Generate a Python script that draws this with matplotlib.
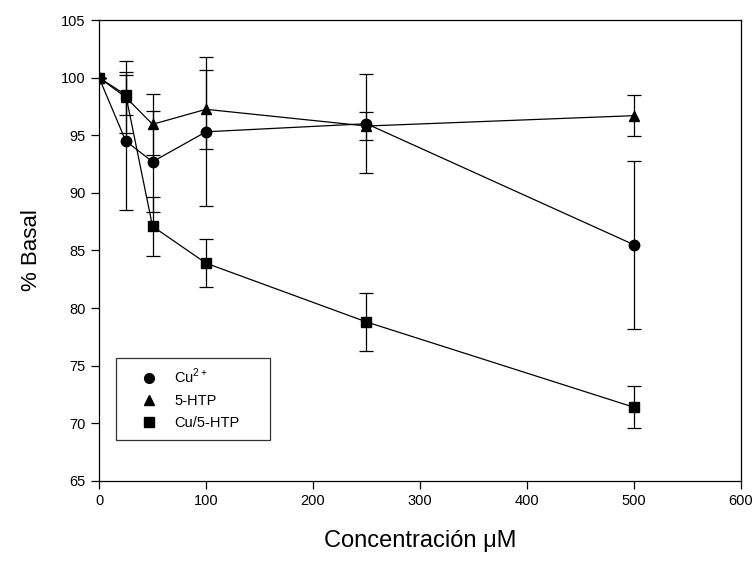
import matplotlib
matplotlib.use("Agg")
import matplotlib.pyplot as plt

plt.rcParams['font.family'] = ['Liberation Sans', 'DejaVu Sans']
plt.rcParams['mathtext.fontset'] = 'custom'
plt.rcParams['mathtext.rm'] = 'Liberation Sans'

conc = [0, 25, 50, 100, 250, 500]

cu_vals = [100, 94.5, 92.7, 95.3, 96.0, 85.5]
cu_err = [0, 6.0, 4.4, 6.45, 4.3, 7.3]

htp_vals = [100, 98.3, 95.95, 97.25, 95.8, 96.7]
htp_err = [0, 3.1, 2.63, 3.45, 1.25, 1.8]

cuhtp_vals = [100, 98.5, 87.1, 83.9, 78.8, 71.4]
cuhtp_err = [0, 1.7, 2.55, 2.1, 2.5, 1.8]

labels = [r'Cu$^{\mathrm{2+}}$', '5-HTP', 'Cu/5-HTP']
markers = ['o', '^', 's']

fig = plt.figure(figsize=(7.56, 5.65), dpi=100)
ax = fig.add_axes([0.131, 0.1487, 0.849, 0.8159])

series = [(cu_vals, cu_err), (htp_vals, htp_err), (cuhtp_vals, cuhtp_err)]
handles = []
for (vals, err), lab, mk in zip(series, labels, markers):
    ax.errorbar(conc, vals, yerr=err, color='black', linewidth=0.9,
                elinewidth=0.9, capsize=5, capthick=0.9, fmt='none')
    ax.plot(conc, vals, color='black', linewidth=0.9, marker=mk,
            markersize=7.5 if mk != 's' else 7, markerfacecolor='black',
            markeredgecolor='black')
    h, = ax.plot([], [], linestyle='none', marker=mk, color='black',
                 markersize=7 if mk != 's' else 6.5, label=lab)
    handles.append(h)

ax.set_xlim(0, 600)
ax.set_ylim(65, 105)
ax.set_xticks(range(0, 601, 100))
ax.set_yticks(range(65, 106, 5))
ax.tick_params(direction='out', length=6, width=0.9, labelsize=10.5,
               top=False, right=False)
for sp in ax.spines.values():
    sp.set_linewidth(0.9)

ax.set_xlabel('Concentración μM', fontsize=17, labelpad=16)
ax.set_ylabel('% Basal', fontsize=16, labelpad=14)

leg = ax.legend(handles=handles, loc='lower left',
                bbox_to_anchor=(0.026, 0.089, 0.24, 0.16), mode='expand',
                fontsize=10.5, frameon=True, fancybox=False, edgecolor='black',
                borderpad=0.65, labelspacing=0.55, handlelength=3.2,
                handletextpad=0.15, borderaxespad=0)
leg.get_frame().set_linewidth(0.9)

fig.savefig('out.png', dpi=100)
